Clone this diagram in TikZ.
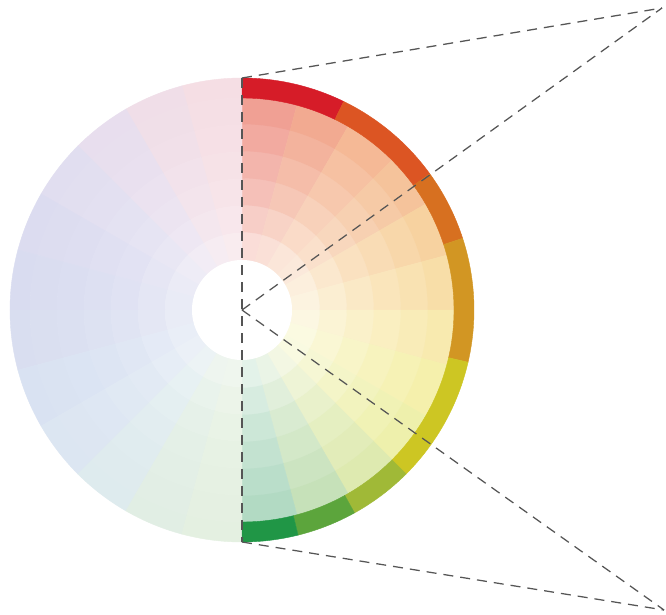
\documentclass[tikz,border=0pt]{standalone}
\usepackage{tikz}
\definecolor{R1}{RGB}{240,160,148}
\definecolor{R2}{RGB}{242,170,145}
\definecolor{R3}{RGB}{245,185,150}
\definecolor{R4}{RGB}{245,195,155}
\definecolor{R5}{RGB}{247,210,160}
\definecolor{R6}{RGB}{248,222,168}
\definecolor{R7}{RGB}{248,234,175}
\definecolor{R8}{RGB}{245,240,172}
\definecolor{R9}{RGB}{238,240,172}
\definecolor{R10}{RGB}{222,234,176}
\definecolor{R11}{RGB}{198,225,185}
\definecolor{R12}{RGB}{178,218,195}
\definecolor{L1}{RGB}{245,222,228}
\definecolor{L2}{RGB}{240,222,232}
\definecolor{L3}{RGB}{232,222,238}
\definecolor{L4}{RGB}{225,222,240}
\definecolor{L5}{RGB}{220,220,240}
\definecolor{L6}{RGB}{217,220,240}
\definecolor{L7}{RGB}{217,222,240}
\definecolor{L8}{RGB}{217,226,242}
\definecolor{L9}{RGB}{220,230,242}
\definecolor{L10}{RGB}{222,235,238}
\definecolor{L11}{RGB}{225,238,228}
\definecolor{L12}{RGB}{228,240,225}
\definecolor{O1}{RGB}{214,28,40}
\definecolor{O2}{RGB}{220,85,35}
\definecolor{O3}{RGB}{215,112,32}
\definecolor{O4}{RGB}{210,150,35}
\definecolor{O5}{RGB}{205,198,35}
\definecolor{O6}{RGB}{160,185,55}
\definecolor{O7}{RGB}{92,165,60}
\definecolor{O8}{RGB}{32,150,70}
\definecolor{dashgray}{RGB}{85,85,85}
\tikzset{
  sector/.style={fill=#1, draw=#1, line width=0.4pt},
  guide/.style={draw=dashgray, line width=1.25pt, dash pattern=on 10pt off 7pt}
}
\begin{document}
\begin{tikzpicture}[x=1pt,y=1pt]
\useasboundingbox[fill=white] (0,0) rectangle (666,614);
\coordinate (C) at (242,304);
\coordinate (T) at (242,536);
\coordinate (B) at (242,72);
\coordinate (P1) at (662,606);
\coordinate (P2) at (664,4);
\begin{scope}[shift={(C)}]
  % right half, tinted bands
  \foreach \i in {1,...,12}{
    \pgfmathsetmacro\a{105-15*\i}
    \pgfmathsetmacro\b{\a-15}
    \foreach \r/\t in {185/100,158/89,131/78,104/66,77/52,50/36}{
      \pgfmathsetmacro\rr{\r+27.5}
      \fill[sector=R\i!\t!white] (\a:\r) arc[start angle=\a,end angle=\b,radius=\r]
        -- (\b:\rr) arc[start angle=\b,end angle=\a,radius=\rr] -- cycle;
    }
  }
  % left half, pale bands
  \foreach \i in {1,...,12}{
    \pgfmathsetmacro\a{75+15*\i}
    \pgfmathsetmacro\b{\a+15}
    \foreach \r/\t/\rr in {212/100/232,185/98/212,158/94/185,131/89/158,104/82/131,77/72/104,50/58/77}{
      \fill[sector=L\i!\t!white] (\a:\r) arc[start angle=\a,end angle=\b,radius=\r]
        -- (\b:\rr) arc[start angle=\b,end angle=\a,radius=\rr] -- cycle;
    }
  }
  % saturated outer ring
  \foreach \a/\b/\c in {90/64/O1,64/36/O2,36/18/O3,18/-13/O4,-13/-45/O5,-45/-61/O6,-61/-76/O7,-76/-90/O8}{
    \fill[sector=\c] (\a:212) arc[start angle=\a,end angle=\b,radius=212]
      -- (\b:232) arc[start angle=\b,end angle=\a,radius=232] -- cycle;
  }
  \fill[white] (0,0) circle[radius=50];
\end{scope}
\draw[guide] (T) -- (P1);
\draw[guide] (C) -- (P1);
\draw[guide] (C) -- (P2);
\draw[guide] (B) -- (P2);
\draw[guide] (T) -- (B);
\end{tikzpicture}
\end{document}
